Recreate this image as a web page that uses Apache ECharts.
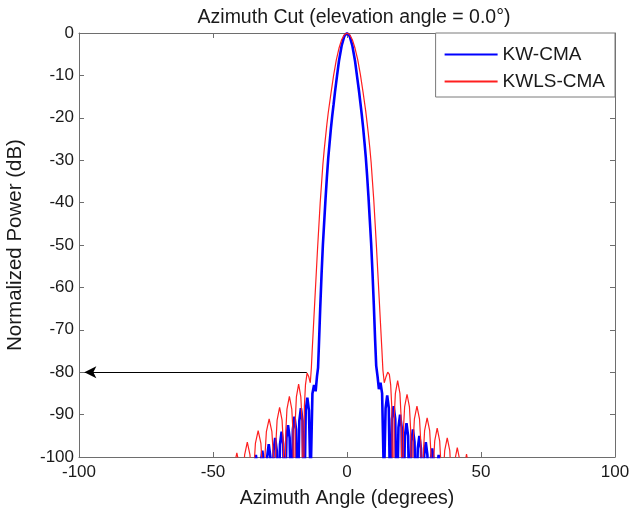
<!DOCTYPE html>
<html>
<head>
<meta charset="utf-8">
<title>Azimuth Cut</title>
<script src="https://cdn.jsdelivr.net/npm/echarts@6/dist/echarts.min.js"></script>
<style>
  html, body { margin: 0; padding: 0; background: #ffffff; }
  #chart { width: 633px; height: 517px; }
</style>
</head>
<body>
<div id="chart"></div>
<script>
// Series names
const seriesNames = ['KW-CMA', 'KWLS-CMA'];

// KW-CMA azimuth pattern: [angle (deg), normalized power (dB)]
const kwPattern = [
  [-35.2, -115], [-34.6, -102.5], [-34.0, -99.5], [-33.4, -102.5],
  [-32.8, -115], [-32.2, -101.5], [-31.6, -98.5], [-31.0, -101.5],
  [-30.4, -115], [-29.8, -100], [-29.2, -97], [-28.6, -100],
  [-28.0, -115], [-27.4, -98.5], [-26.8, -95.5], [-26.2, -98.5],
  [-25.6, -115], [-25.0, -97], [-24.4, -94], [-23.8, -97],
  [-23.2, -115], [-22.6, -95.5], [-22.0, -92.5], [-21.4, -95.5],
  [-20.8, -115], [-20.2, -93.5], [-19.6, -90.5], [-19.0, -93.5],
  [-18.4, -115], [-17.8, -91.5], [-17.2, -88.5], [-16.6, -91.5],
  [-16.0, -115], [-15.4, -89], [-14.8, -86], [-14.2, -89],
  [-13.6, -106], [-12.9, -85], [-12.3, -83], [-11.7, -84.5], [-11.2, -81],
  [-10.8, -79], [-10.5, -74], [-10.0, -65], [-9.5, -57], [-9.0, -50],
  [-8.5, -44.5], [-8.0, -39], [-7.5, -34], [-7.0, -29.5], [-6.5, -26],
  [-6.0, -22.5], [-5.5, -19.5], [-5.0, -16.8], [-4.5, -14], [-3.7, -10],
  [-3.0, -6.6], [-2.0, -3], [-1.0, -0.75],
  [0, 0],
  [1.0, -0.75], [2.0, -3], [3.0, -6.6], [3.7, -10], [4.5, -13.8],
  [5.0, -16.5], [5.5, -19.2], [6.0, -22.2], [6.5, -25.6], [7.0, -29.2],
  [7.5, -33.6], [8.0, -38.5], [8.5, -44], [9.0, -49.5], [9.5, -56.3],
  [10.0, -64], [10.5, -72.5], [10.9, -78.5],
  [11.4, -81], [11.9, -84], [12.5, -82.5], [13.1, -85],
  [13.8, -106], [14.4, -88.5], [15.0, -85.5], [15.6, -88.5],
  [16.2, -115], [16.8, -91], [17.4, -88], [18.0, -91],
  [18.6, -115], [19.2, -93], [19.8, -90], [20.4, -93],
  [21.0, -115], [21.6, -95], [22.2, -92], [22.8, -95],
  [23.4, -115], [24.0, -96.5], [24.6, -93.5], [25.2, -96.5],
  [25.8, -115], [26.4, -98], [27.0, -95], [27.6, -98],
  [28.2, -115], [28.8, -99.5], [29.4, -96.5], [30.0, -99.5],
  [30.6, -115], [31.2, -101], [31.8, -98], [32.4, -101],
  [33.0, -115], [33.6, -102.5], [34.2, -99.5], [34.8, -102.5],
  [35.4, -115]
];

// KWLS-CMA azimuth pattern: [angle (deg), normalized power (dB)]
const kwlsPattern = [
  [-43.0, -120], [-42.52, -107.4], [-42.05, -102], [-41.1, -99], [-40.15, -102], [-39.68, -107.4],
  [-39.2, -120], [-38.7, -104.9], [-38.2, -99.5], [-37.2, -96.5], [-36.2, -99.5], [-35.7, -104.9],
  [-35.2, -120], [-34.69, -102.2], [-34.18, -96.8], [-33.15, -93.8], [-32.13, -96.8], [-31.61, -102.2],
  [-31.1, -120], [-30.59, -99.4], [-30.08, -94], [-29.05, -91], [-28.03, -94], [-27.51, -99.4],
  [-27.0, -120], [-26.54, -96.7], [-26.08, -91.3], [-25.15, -88.3], [-24.23, -91.3], [-23.76, -96.7],
  [-23.3, -120], [-22.85, -94.1], [-22.4, -88.7], [-21.5, -85.7], [-20.6, -88.7], [-20.15, -94.1],
  [-19.7, -120], [-19.29, -91.2], [-18.88, -85.8], [-18.05, -82.8], [-17.23, -85.8], [-16.81, -91.2],
  [-16.4, -120], [-15.9, -88], [-15.5, -83], [-14.9, -80.2], [-14.3, -81], [-13.7, -82.5],
  [-13.3, -79], [-13.0, -75], [-12.5, -69], [-12.0, -63], [-11.5, -57], [-11.0, -51],
  [-10.5, -45.5], [-10.0, -40], [-9.5, -35.5], [-9.0, -31], [-8.5, -27.5], [-8.0, -24.5],
  [-7.5, -21.5], [-7.0, -18.8], [-6.0, -14.3], [-5.0, -10], [-4.0, -6.4], [-3.0, -3.6],
  [-2.0, -1.6], [-1.0, -0.4],
  [0, 0],
  [1.0, -0.4], [2.0, -1.6], [3.0, -3.6], [4.0, -6.3], [5.0, -9.8], [6.0, -14],
  [7.0, -18.5], [7.5, -21.2], [8.0, -24], [8.5, -27], [9.0, -30.5], [9.5, -35],
  [10.0, -39.5], [10.5, -45], [11.0, -50.5], [11.5, -56.5], [12.0, -62.5], [12.5, -68.5],
  [13.0, -74.5], [13.4, -79.5],
  [13.9, -82.5], [14.6, -81], [15.2, -80], [15.8, -80.5], [16.3, -83], [16.7, -88],
  [17.2, -120], [17.63, -90.4], [18.05, -85], [18.9, -82], [19.75, -85], [20.18, -90.4],
  [20.6, -120], [21.05, -93.6], [21.5, -88.2], [22.4, -85.2], [23.3, -88.2], [23.75, -93.6],
  [24.2, -120], [24.68, -96.4], [25.15, -91], [26.1, -88], [27.05, -91], [27.53, -96.4],
  [28.0, -120], [28.48, -99.2], [28.95, -93.8], [29.9, -90.8], [30.85, -93.8], [31.33, -99.2],
  [31.8, -120], [32.26, -101.6], [32.73, -96.2], [33.65, -93.2], [34.58, -96.2], [35.04, -101.6],
  [35.5, -120], [35.98, -103.9], [36.45, -98.5], [37.4, -95.5], [38.35, -98.5], [38.83, -103.9],
  [39.3, -120], [39.76, -106.2], [40.23, -100.8], [41.15, -97.8], [42.08, -100.8], [42.54, -106.2],
  [43.0, -120], [43.4, -107.7], [43.8, -102.3], [44.6, -99.3], [45.4, -102.3], [45.8, -107.7],
  [46.2, -120]
];

// Annotation arrow marking the -80 dB sidelobe level: [from, to] as [angle, dB]
const levelArrow = [[-15, -80], [-98, -80]];

// Axis ranges
const angleRange = { min: -100, max: 100, step: 50 };
const powerRange = { min: -100, max: 0, step: 10 };

const fontFamily = '"Liberation Sans", Arial, Helvetica, sans-serif';
const textColor = '#1a1a1a';
const axisColor = '#6e6e6e';

const boxAxis = (extra) => Object.assign({
  type: 'value',
  axisLine: { show: true, onZero: false, lineStyle: { color: axisColor, width: 1 } },
  axisTick: { show: true, inside: true, length: 5, lineStyle: { color: axisColor } },
  splitLine: { show: false }
}, extra);

const chart = echarts.init(document.getElementById('chart'), null, { renderer: 'canvas' });

chart.setOption({
  animation: false,
  backgroundColor: '#ffffff',
  textStyle: { fontFamily: fontFamily },
  title: {
    text: 'Azimuth Cut (elevation angle = 0.0°)',
    left: 349,
    textAlign: 'center',
    top: 3,
    textStyle: { fontSize: 19.5, fontWeight: 'normal', color: textColor, fontFamily: fontFamily }
  },
  grid: { left: 79, right: 18, top: 33, bottom: 60, containLabel: false, outerBoundsMode: 'none' },
  legend: {
    data: seriesNames,
    orient: 'vertical',
    right: 18,
    top: 33,
    padding: [12, 10, 6, 8],
    itemGap: 8,
    itemWidth: 53,
    itemHeight: 14,
    backgroundColor: '#ffffff',
    borderColor: '#7a7a7a',
    borderWidth: 1,
    borderRadius: 0,
    itemStyle: { opacity: 0 },
    textStyle: { fontSize: 19, color: textColor, fontFamily: fontFamily }
  },
  xAxis: [
    boxAxis({
      min: angleRange.min, max: angleRange.max, interval: angleRange.step,
      position: 'bottom',
      name: 'Azimuth Angle (degrees)',
      nameLocation: 'middle',
      nameGap: 32,
      nameTextStyle: { fontSize: 19.5, color: textColor, fontFamily: fontFamily },
      axisLabel: { fontSize: 17, color: textColor, margin: 7, fontFamily: fontFamily }
    }),
    boxAxis({
      min: angleRange.min, max: angleRange.max, interval: angleRange.step,
      position: 'top',
      axisLabel: { show: false }
    })
  ],
  yAxis: [
    boxAxis({
      min: powerRange.min, max: powerRange.max, interval: powerRange.step,
      position: 'left',
      name: 'Normalized Power (dB)',
      nameLocation: 'middle',
      nameRotate: 90,
      nameGap: 53,
      nameTextStyle: { fontSize: 20.5, color: textColor, fontFamily: fontFamily },
      axisLabel: { fontSize: 17, color: textColor, margin: 5, fontFamily: fontFamily }
    }),
    boxAxis({
      min: powerRange.min, max: powerRange.max, interval: powerRange.step,
      position: 'right',
      axisLabel: { show: false }
    })
  ],
  series: [
    {
      name: seriesNames[0],
      type: 'line',
      xAxisIndex: 0,
      yAxisIndex: 0,
      data: kwPattern,
      symbol: 'none',
      clip: true,
      lineStyle: { color: '#0000ff', width: 2.6 },
      itemStyle: { color: '#0000ff' },
      z: 2
    },
    {
      name: seriesNames[1],
      type: 'line',
      xAxisIndex: 0,
      yAxisIndex: 0,
      data: kwlsPattern,
      symbol: 'none',
      clip: true,
      lineStyle: { color: '#ff1f1f', width: 1.2 },
      itemStyle: { color: '#ff1f1f' },
      z: 3,
      markLine: {
        silent: true,
        symbol: ['none', 'arrow'],
        symbolSize: [9, 12],
        label: { show: false },
        lineStyle: { color: '#000000', width: 1, type: 'solid' },
        emphasis: { disabled: true },
        data: [[{ coord: levelArrow[0] }, { coord: levelArrow[1] }]]
      }
    }
  ]
});
</script>
</body>
</html>
